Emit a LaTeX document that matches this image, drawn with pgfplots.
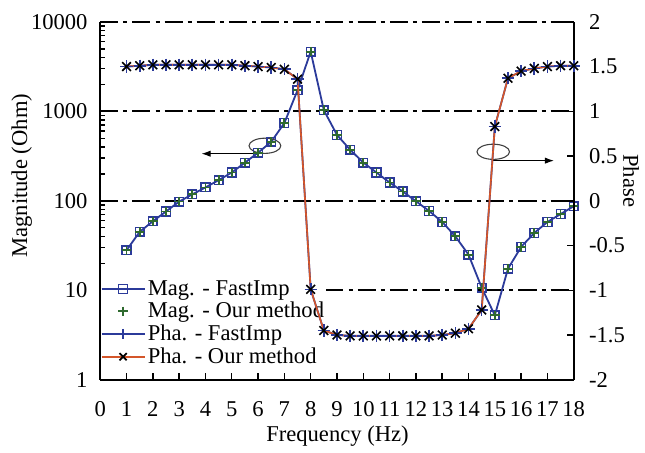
\documentclass[border=0pt]{standalone}
\usepackage{fontspec}
\setmainfont{Liberation Serif}
\usepackage{pgfplots}
\pgfplotsset{compat=1.18}
\usepackage{pgfplotstable}
\usetikzlibrary{arrows.meta}
\definecolor{magblue}{HTML}{2B3A9A}
\definecolor{phaorange}{HTML}{D4562A}
\definecolor{ourgreen}{HTML}{2F6A2F}
\newcommand{\chartfont}{\fontsize{12.5}{15}\selectfont}

% frequency, magnitude (Ohm), phase
\pgfplotstableread{
x    mag   pha
1    28    1.50
1.5  45    1.51
2    59    1.52
2.5  76    1.52
3    98    1.52
3.5  118   1.52
4    141   1.52
4.5  170   1.52
5    207   1.52
5.5  267   1.51
6    345   1.50
6.5  456   1.49
7    741   1.47
7.5  1720  1.36
8    4650  -0.99
8.5  1030  -1.45
9    545   -1.50
9.5  372   -1.51
10   267   -1.51
10.5 207   -1.51
11   160   -1.51
11.5 127   -1.51
12   99    -1.51
12.5 77    -1.51
13   58    -1.50
13.5 40    -1.48
14   25    -1.43
14.5 10.7  -1.22
15   5.25  0.83
15.5 17.4  1.37
16   30.5  1.45
16.5 43.7  1.48
17   58    1.50
17.5 71    1.51
18   87    1.51
}\datatab

\begin{document}
\begin{tikzpicture}
\pgfplotsset{
  every axis/.append style={
    scale only axis,width=262pt,height=198pt,
    xmin=0,xmax=18,clip=false,
    tick align=inside,major tick length=3.5pt,
    tick style={black,line width=0.8pt},
    axis line style={-,black,line width=1pt},
    /pgf/number format/assume math mode=true,
    tick label style={font=\chartfont},
    label style={font=\chartfont},
  },
  legend image code/.code={
    \draw[mark repeat=2,mark phase=2,#1]
      plot coordinates {(0cm,0cm) (0.42cm,0cm) (0.84cm,0cm)};},
}
\begin{axis}[
  ymode=log,ymin=1,ymax=10000,
  axis x line*=bottom,axis y line*=left,
  xtick={0,...,18},
  ytick={1,10,100,1000,10000},yticklabels={1,10,100,1000,10000},
  xticklabel style={yshift=-8.5pt},
  yticklabel style={anchor=east,xshift=-3.5pt},
  ymajorgrids,
  grid style={black,line width=1pt,dash pattern=on 10pt off 2.8pt on 2.2pt off 2.8pt},
  xlabel={Frequency (Hz)},ylabel={Magnitude (Ohm)},
  xlabel style={at={(axis description cs:0.501,-0.158)},anchor=center},
  ylabel style={at={(axis description cs:-0.166,0.57)},anchor=center},
  legend style={at={(axis description cs:0,0.285)},anchor=north west,
    draw=none,fill=white,inner sep=0pt,nodes={inner sep=1.2pt},font=\chartfont},
  legend cell align=left,
]
\addplot[color=magblue,line width=1pt,mark=square,mark size=2.4pt,
  mark options={solid,line width=0.8pt}] table[x=x,y=mag]{\datatab};
\addplot[only marks,color=ourgreen,mark=+,mark size=2.6pt,
  mark options={line width=1pt}] table[x=x,y=mag]{\datatab};
\addlegendimage{color=magblue,line width=1pt,mark=+,mark size=2.8pt}
\addlegendimage{color=phaorange,line width=1pt,mark=x,mark size=2.8pt,
  mark options={black}}
\legend{Mag. - FastImp,Mag. - Our method,Pha. - FastImp,Pha. - Our method}

% markers pointing to the axes
\draw[line width=0.6pt,black!75] (axis cs:6.26,412) ellipse [x radius=8.8pt,y radius=4.2pt];
\draw[line width=0.6pt,-{Latex[length=5pt,width=3.5pt]}]
  (axis cs:5.92,336) -- (axis cs:3.85,336);
\draw[line width=0.6pt,black!75] (axis cs:14.94,353) ellipse [x radius=9pt,y radius=4.2pt];
\draw[line width=0.6pt,-{Latex[length=5pt,width=3.5pt]}]
  (axis cs:14.94,281) -- (axis cs:17.25,281);

\path (rel axis cs:-0.2117,-0.1917) rectangle (rel axis cs:1.1405,1.0611);
\end{axis}

\begin{axis}[
  ymin=-2,ymax=2,
  axis x line=none,axis y line*=right,
  ytick={-2,-1.5,-1,-0.5,0,0.5,1,1.5,2},
  yticklabels={-2,-1.5,-1,-0.5,0,0.5,1,1.5,2},
  yticklabel style={xshift=5pt},
  ylabel={Phase},
  ylabel style={at={(axis description cs:1.121,0.556)},anchor=center,rotate=180},
]
\addplot[color=magblue,line width=1pt,mark=+,mark size=3.4pt,
  mark options={line width=0.9pt}] table[x=x,y=pha]{\datatab};
\addplot[color=phaorange,line width=0.9pt,mark=x,mark size=3.4pt,
  mark options={black,line width=0.9pt}] table[x=x,y=pha]{\datatab};
\end{axis}
\end{tikzpicture}
\end{document}
